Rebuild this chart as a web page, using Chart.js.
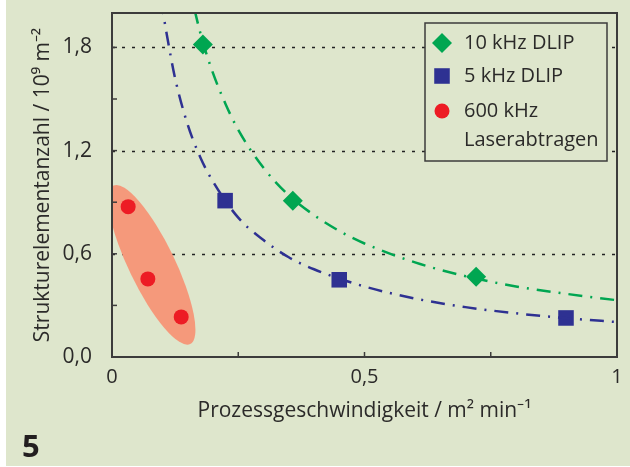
<!DOCTYPE html>
<html>
<head>
<meta charset="utf-8">
<script src="https://cdn.jsdelivr.net/npm/chart.js@4.4.1/dist/chart.umd.min.js"></script>
<style>
  body { margin: 0; background: #fff; }
  #wrap { position: relative; width: 630px; height: 467px; }
  #fig { position: absolute; left: 22px; top: 424px; font: bold 31px "Open Sans", sans-serif; color: #231f20; }
</style>
</head>
<body>
<div id="wrap">
  <canvas id="chart" width="630" height="467"></canvas>
  <div id="fig">5</div>
</div>
<script>
// measured points
var dlip10X = [0.18, 0.358, 0.721];
var dlip10Y = [1.817, 0.909, 0.466];
var dlip5X = [0.224, 0.45, 0.899];
var dlip5Y = [0.909, 0.449, 0.227];
var laserX = [0.032, 0.071, 0.137];
var laserY = [0.874, 0.454, 0.233];

// fitted curves
var fit10X = [0.15, 0.165, 0.18, 0.2, 0.225, 0.25, 0.3, 0.35, 0.4, 0.45, 0.5, 0.6, 0.7, 0.8, 0.9, 1.0];
var fit10Y = [2.2, 2.0, 1.83, 1.65, 1.47, 1.32, 1.10, 0.94, 0.825, 0.733, 0.66, 0.55, 0.47, 0.41, 0.367, 0.33];
var fit5X = [0.09, 0.1015, 0.11, 0.125, 0.15, 0.175, 0.2, 0.25, 0.3, 0.35, 0.4, 0.5, 0.6, 0.7, 0.8, 0.9, 1.0];
var fit5Y = [2.26, 2.0, 1.85, 1.62, 1.35, 1.16, 1.02, 0.81, 0.68, 0.58, 0.51, 0.41, 0.34, 0.29, 0.254, 0.226, 0.203];

// ticks
var xTickValues = [0, 0.25, 0.5, 0.75, 1];
var xTickLabels = ['0', '', '0,5', '', '1'];
var yTickValues = [0, 0.3, 0.6, 0.9, 1.2, 1.5, 1.8];
var yTickLabels = ['0,0', '', '0,6', '', '1,2', '', '1,8'];
var yGridValues = [0.6, 1.2, 1.8];

// laser cloud centre (data units)
var cloudX = 0.079;
var cloudY = 0.536;

var BG = '#dee6cc';
var AXIS = '#3c3c3b';
var TEXT = '#2b2a29';
var FONT = '"Open Sans", sans-serif';

function pts(xs, ys) {
  return xs.map(function (x, i) { return { x: x, y: ys[i] }; });
}

var chartPlugin = {
  id: 'figure',
  beforeDraw: function (chart) {
    var ctx = chart.ctx;
    ctx.save();
    ctx.fillStyle = BG;
    ctx.fillRect(6, 0, chart.width - 6, chart.height - 1);
    ctx.restore();
  },
  beforeDatasetsDraw: function (chart) {
    var ctx = chart.ctx, a = chart.chartArea;
    var sx = chart.scales.x, sy = chart.scales.y;
    ctx.save();
    // dotted grid
    ctx.strokeStyle = '#222';
    ctx.lineWidth = 1.5;
    ctx.setLineDash([3, 7]);
    yGridValues.forEach(function (v) {
      var y = Math.round(sy.getPixelForValue(v)) + 0.5;
      ctx.beginPath();
      ctx.moveTo(a.left, y);
      ctx.lineTo(a.right, y);
      ctx.stroke();
    });
    ctx.setLineDash([]);
    // ellipse
    ctx.beginPath();
    ctx.rect(a.left, a.top, a.right - a.left, a.bottom - a.top);
    ctx.clip();
    ctx.fillStyle = '#f5997b';
    ctx.beginPath();
    ctx.ellipse(sx.getPixelForValue(cloudX), sy.getPixelForValue(cloudY), 88, 23, 64.2 * Math.PI / 180, 0, Math.PI * 2);
    ctx.fill();
    ctx.restore();
  },
  afterDraw: function (chart) {
    var ctx = chart.ctx, a = chart.chartArea;
    var sx = chart.scales.x, sy = chart.scales.y;
    ctx.save();
    // inward ticks
    ctx.strokeStyle = AXIS;
    ctx.lineWidth = 1.5;
    xTickValues.forEach(function (v) {
      var x = sx.getPixelForValue(v);
      ctx.beginPath();
      ctx.moveTo(x, a.bottom);
      ctx.lineTo(x, a.bottom - 5);
      ctx.stroke();
    });
    yTickValues.forEach(function (v) {
      var y = sy.getPixelForValue(v);
      ctx.beginPath();
      ctx.moveTo(a.left, y);
      ctx.lineTo(a.left + 5, y);
      ctx.stroke();
    });
    // frame
    ctx.lineWidth = 2;
    ctx.strokeRect(a.left, a.top, a.right - a.left, a.bottom - a.top);

    // legend
    var lx = a.right - 192, ly = a.top + 10, lw = 182, lh = 138;
    ctx.fillStyle = BG;
    ctx.fillRect(lx, ly, lw, lh);
    ctx.strokeStyle = AXIS;
    ctx.lineWidth = 1.5;
    ctx.strokeRect(lx, ly, lw, lh);
    var rows = [20, 53, 88];
    ctx.font = '20px ' + FONT;
    ctx.textBaseline = 'middle';
    ctx.textAlign = 'left';
    chart.data.datasets.forEach(function (ds) {
      if (ds.legendRow === undefined) return;
      var cy = ly + rows[ds.legendRow];
      ctx.fillStyle = ds.backgroundColor;
      ctx.beginPath();
      if (ds.pointStyle === 'rectRot') {
        var r = ds.pointRadius;
        ctx.moveTo(lx + 17, cy - r); ctx.lineTo(lx + 17 + r, cy);
        ctx.lineTo(lx + 17, cy + r); ctx.lineTo(lx + 17 - r, cy);
      } else if (ds.pointStyle === 'rect') {
        var s = ds.pointRadius * Math.SQRT1_2;
        ctx.rect(lx + 17 - s, cy - s, 2 * s, 2 * s);
      } else {
        ctx.arc(lx + 17, cy, ds.pointRadius, 0, Math.PI * 2);
      }
      ctx.fill();
      ctx.fillStyle = TEXT;
      var lines = [].concat(ds.label);
      lines.forEach(function (t, i) {
        ctx.fillText(t, lx + 39, cy + i * 29);
      });
    });
    ctx.restore();
  }
};

new Chart(document.getElementById('chart'), {
  type: 'scatter',
  data: {
    datasets: [
      {
        label: 'fit 10 kHz', type: 'line', data: pts(fit10X, fit10Y),
        borderColor: '#00a651', borderWidth: 2.5, borderDash: [14, 8, 2, 8],
        pointRadius: 0, cubicInterpolationMode: 'monotone', fill: false
      },
      {
        label: 'fit 5 kHz', type: 'line', data: pts(fit5X, fit5Y),
        borderColor: '#2e3192', borderWidth: 2.5, borderDash: [14, 8, 2, 8],
        pointRadius: 0, cubicInterpolationMode: 'monotone', fill: false
      },
      {
        label: '10 kHz DLIP', data: pts(dlip10X, dlip10Y), legendRow: 0,
        pointStyle: 'rectRot', pointRadius: 10, backgroundColor: '#00a651', borderWidth: 0
      },
      {
        label: '5 kHz DLIP', data: pts(dlip5X, dlip5Y), legendRow: 1,
        pointStyle: 'rect', pointRadius: 11, backgroundColor: '#2e3192', borderWidth: 0
      },
      {
        label: ['600 kHz', 'Laserabtragen'], data: pts(laserX, laserY), legendRow: 2,
        pointStyle: 'circle', pointRadius: 7.5, backgroundColor: '#ed1c24', borderWidth: 0
      }
    ]
  },
  options: {
    responsive: false,
    animation: false,
    layout: { padding: { left: 0, top: 13, right: 13, bottom: 0 } },
    plugins: { legend: { display: false }, tooltip: { enabled: false } },
    scales: {
      x: {
        type: 'linear', min: 0, max: 1,
        grid: { display: false }, border: { display: false },
        afterBuildTicks: function (s) { s.ticks = xTickValues.map(function (v) { return { value: v }; }); },
        afterFit: function (s) { s.height = 110; s.paddingLeft = 0; s.paddingRight = 0; },
        ticks: {
          padding: 0, color: TEXT, font: { family: FONT, size: 20 },
          callback: function (v) { return xTickLabels[xTickValues.indexOf(v)]; }
        },
        title: {
          display: true, text: 'Prozessgeschwindigkeit / m\u00b2 min\u207b\u00b9',
          color: TEXT, font: { family: FONT, size: 21 }, padding: { top: 6, bottom: 43 }
        }
      },
      y: {
        type: 'linear', min: 0, max: 2,
        grid: { display: false }, border: { display: false },
        afterBuildTicks: function (s) { s.ticks = yTickValues.map(function (v) { return { value: v }; }); },
        afterFit: function (s) { s.width = 112; s.paddingTop = 0; s.paddingBottom = 0; },
        ticks: {
          padding: 12, color: TEXT, font: { family: FONT, size: 21 },
          callback: function (v) { return yTickLabels[yTickValues.indexOf(v)]; }
        },
        title: {
          display: true, text: 'Strukturelementanzahl / 10\u2079 m\u207b\u00b2',
          color: TEXT, font: { family: FONT, size: 21 }, padding: { top: 30, bottom: 4 }
        }
      }
    }
  },
  plugins: [chartPlugin]
});
</script>
</body>
</html>
